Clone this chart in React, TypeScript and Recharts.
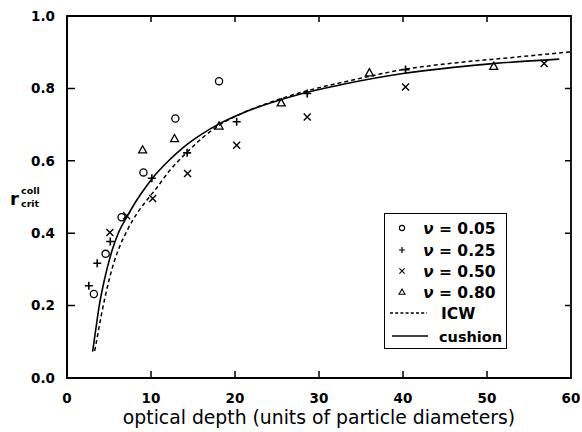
import React from 'react';
import { ComposedChart, Line, Scatter, XAxis, YAxis, ReferenceArea } from 'recharts';

// ---- data ----
const xTicks = [0, 10, 20, 30, 40, 50, 60];
const yTicks = [0, 0.2, 0.4, 0.6, 0.8, 1.0];

const nu005 = [
  { x: 3.2, y: 0.232 }, { x: 4.6, y: 0.343 }, { x: 6.5, y: 0.444 },
  { x: 9.1, y: 0.568 }, { x: 12.9, y: 0.717 }, { x: 18.1, y: 0.82 },
];
const nu025 = [
  { x: 2.6, y: 0.255 }, { x: 3.6, y: 0.317 }, { x: 5.15, y: 0.377 },
  { x: 10.1, y: 0.552 }, { x: 14.3, y: 0.622 }, { x: 20.2, y: 0.708 },
  { x: 28.6, y: 0.786 }, { x: 40.3, y: 0.852 },
];
const nu050 = [
  { x: 5.1, y: 0.402 }, { x: 7.1, y: 0.448 }, { x: 10.2, y: 0.496 },
  { x: 14.35, y: 0.565 }, { x: 20.2, y: 0.643 }, { x: 28.6, y: 0.721 },
  { x: 40.3, y: 0.804 }, { x: 56.8, y: 0.869 },
];
const nu080 = [
  { x: 9.0, y: 0.63 }, { x: 12.8, y: 0.661 }, { x: 18.1, y: 0.696 },
  { x: 25.5, y: 0.76 }, { x: 36.0, y: 0.843 }, { x: 50.8, y: 0.861 },
];
const icw = [
  { x: 3.3, y: 0.075 }, { x: 3.7, y: 0.125 }, { x: 4.1, y: 0.175 }, { x: 4.5, y: 0.22 },
  { x: 5.0, y: 0.27 }, { x: 5.6, y: 0.32 }, { x: 6.3, y: 0.365 }, { x: 7.0, y: 0.4 },
  { x: 7.8, y: 0.435 }, { x: 8.8, y: 0.47 }, { x: 9.7, y: 0.497 }, { x: 10.5, y: 0.52 },
  { x: 12.3, y: 0.575 }, { x: 14.35, y: 0.625 }, { x: 16.2, y: 0.665 }, { x: 18.1, y: 0.698 },
  { x: 21, y: 0.733 }, { x: 24, y: 0.76 }, { x: 28.5, y: 0.793 }, { x: 34, y: 0.823 },
  { x: 40, y: 0.852 }, { x: 46, y: 0.87 }, { x: 52.8, y: 0.885 }, { x: 60, y: 0.901 },
];
const cushion = [
  { x: 3.05, y: 0.073 }, { x: 3.4, y: 0.13 }, { x: 3.84, y: 0.2 }, { x: 4.3, y: 0.255 },
  { x: 4.8, y: 0.305 }, { x: 5.4, y: 0.355 }, { x: 6.1, y: 0.4 }, { x: 7.2, y: 0.448 },
  { x: 8.0, y: 0.48 }, { x: 9.0, y: 0.515 }, { x: 10.1, y: 0.55 }, { x: 12, y: 0.598 },
  { x: 14, y: 0.64 }, { x: 16, y: 0.673 }, { x: 18.1, y: 0.702 }, { x: 21, y: 0.733 },
  { x: 24, y: 0.758 }, { x: 28, y: 0.786 }, { x: 33, y: 0.812 }, { x: 40, y: 0.841 },
  { x: 46, y: 0.858 }, { x: 51, y: 0.869 }, { x: 58.6, y: 0.881 },
];
const legendLabels = ['0.05', '0.25', '0.50', '0.80'];

// ---- layout / styles ----
const W = 582;
const H = 432;
const M_TOP = 16;
const M_RIGHT = 11;
const X_TICK_MARGIN = 15;
const Y_TICK_MARGIN = 12;
const INK = '#000';
const FONT = '"DejaVu Sans", sans-serif';
const tickText = { fontFamily: FONT, fontSize: 13.5, fontWeight: 'bold' as const, fill: INK };

const XTick = (p: any) => {
  const v = Number(p.payload.value);
  const x = Number(p.x);
  const y = Number(p.y);
  const axisY = y - X_TICK_MARGIN;
  const inner = v > 0 && v < 60;
  return (
    <g>
      {inner && (
        <path d={`M${x},${axisY}V${axisY - 7}M${x},${M_TOP}V${M_TOP + 6}`} stroke={INK} strokeWidth={1.5} fill="none" />
      )}
      <text x={x} y={y} dy="0.72em" textAnchor="middle" {...tickText}>{v}</text>
    </g>
  );
};

const YTick = (p: any) => {
  const v = Number(p.payload.value);
  const x = Number(p.x);
  const y = Number(p.y);
  const axisX = x + Y_TICK_MARGIN;
  const inner = v > 0 && v < 1;
  const rightX = W - M_RIGHT;
  return (
    <g>
      {inner && (
        <path d={`M${axisX},${y}H${axisX + 8}M${rightX},${y}H${rightX - 6}`} stroke={INK} strokeWidth={1.5} fill="none" />
      )}
      <text x={x} y={y} dy="0.36em" textAnchor="end" {...tickText}>{v.toFixed(1)}</text>
    </g>
  );
};

const CircleMark = (p: any) => (
  <circle cx={p.cx} cy={p.cy} r={3.6} fill="none" stroke={INK} strokeWidth={1.3} />
);
const PlusMark = (p: any) => (
  <path d={`M${p.cx - 4},${p.cy}h8M${p.cx},${p.cy - 4}v8`} stroke={INK} strokeWidth={1.6} fill="none" />
);
const CrossMark = (p: any) => (
  <path d={`M${p.cx - 3.5},${p.cy - 3.5}l7,7M${p.cx - 3.5},${p.cy + 3.5}l7,-7`} stroke={INK} strokeWidth={1.4} fill="none" />
);
const TriMark = (p: any) => (
  <path d={`M${p.cx},${p.cy - 4.2}L${p.cx + 4},${p.cy + 3}L${p.cx - 4},${p.cy + 3}Z`} stroke={INK} strokeWidth={1.3} fill="none" />
);

const YLabel = () => (
  <g fontFamily={FONT} fontWeight="bold" fill={INK}>
    <text x={10} y={205} fontSize={18}>r</text>
    <text x={21} y={194} fontSize={9.5}>coll</text>
    <text x={21} y={207} fontSize={9.5}>crit</text>
  </g>
);

const legendSymbols = [
  (x: number, y: number) => <circle cx={x} cy={y} r={2.6} fill="none" stroke={INK} strokeWidth={1.1} />,
  (x: number, y: number) => <path d={`M${x - 3},${y}h6M${x},${y - 3}v6`} stroke={INK} strokeWidth={1.2} />,
  (x: number, y: number) => <path d={`M${x - 2.6},${y - 2.6}l5.2,5.2M${x - 2.6},${y + 2.6}l5.2,-5.2`} stroke={INK} strokeWidth={1.1} />,
  (x: number, y: number) => <path d={`M${x},${y - 3}L${x + 3},${y + 2.2}L${x - 3},${y + 2.2}Z`} stroke={INK} strokeWidth={1.1} fill="none" />,
];

const LegendBox = () => {
  const rows = [15, 37, 58, 79];
  return (
    <div style={{ position: 'absolute', left: 384, top: 213, width: 123, height: 136, border: '1.5px solid #000', boxSizing: 'border-box', background: '#fff' }}>
      <svg width={123} height={136} style={{ position: 'absolute', left: -1.5, top: -1.5 }}>
        <g fontFamily={FONT} fontSize={15.5} fontWeight="bold" fill={INK}>
          {legendLabels.map((lab, i) => (
            <g key={lab}>
              {legendSymbols[i](18, rows[i])}
              <text x={39} y={rows[i] + 5.5}>
                <tspan fontStyle="italic">ν</tspan> = {lab}
              </text>
            </g>
          ))}
          <line x1={6} x2={43} y1={100} y2={100} stroke={INK} strokeWidth={1.3} strokeDasharray="3 2.2" />
          <text x={57} y={105.5}>ICW</text>
          <line x1={8} x2={44} y1={123} y2={123} stroke={INK} strokeWidth={1.5} />
          <text x={55} y={128.5} fontSize={14.5}>cushion</text>
        </g>
      </svg>
    </div>
  );
};

export default function App() {
  return (
    <div style={{ position: 'absolute', left: 0, top: 0, width: W, height: H, background: '#fff' }}>
      <ComposedChart width={W} height={H} margin={{ top: M_TOP, right: M_RIGHT, bottom: 0, left: 0 }}>
        <XAxis
          xAxisId="x" dataKey="x" type="number" domain={[0, 60]} ticks={xTicks}
          allowDataOverflow tickLine={false} tickSize={0} tickMargin={X_TICK_MARGIN}
          axisLine={{ stroke: INK, strokeWidth: 2 }} tick={XTick} height={54}
          label={{ value: 'optical depth (units of particle diameters)', position: 'insideBottom', offset: 8, style: { fontFamily: FONT, fontSize: 18.8, fill: INK } }}
        />
        <YAxis
          yAxisId="y" dataKey="y" type="number" domain={[0, 1]} ticks={yTicks}
          allowDataOverflow tickLine={false} tickSize={0} tickMargin={Y_TICK_MARGIN} width={67}
          axisLine={{ stroke: INK, strokeWidth: 2 }} tick={YTick}
          label={{ content: () => <YLabel /> }}
        />
        <ReferenceArea xAxisId="x" yAxisId="y" x1={0} x2={60} y1={0} y2={1}
          fill="none" fillOpacity={0} stroke={INK} strokeWidth={1.8} strokeOpacity={1} ifOverflow="visible" />

        <Line xAxisId="x" yAxisId="y" data={icw} dataKey="y" type="monotone" stroke={INK} strokeWidth={1.5}
          strokeDasharray="4 3" dot={false} isAnimationActive={false} />
        <Line xAxisId="x" yAxisId="y" data={cushion} dataKey="y" type="monotone" stroke={INK} strokeWidth={1.6}
          dot={false} isAnimationActive={false} />
        <Scatter xAxisId="x" yAxisId="y" data={nu005} shape={CircleMark} isAnimationActive={false} />
        <Scatter xAxisId="x" yAxisId="y" data={nu025} shape={PlusMark} isAnimationActive={false} />
        <Scatter xAxisId="x" yAxisId="y" data={nu050} shape={CrossMark} isAnimationActive={false} />
        <Scatter xAxisId="x" yAxisId="y" data={nu080} shape={TriMark} isAnimationActive={false} />
      </ComposedChart>
      <LegendBox />
    </div>
  );
}
